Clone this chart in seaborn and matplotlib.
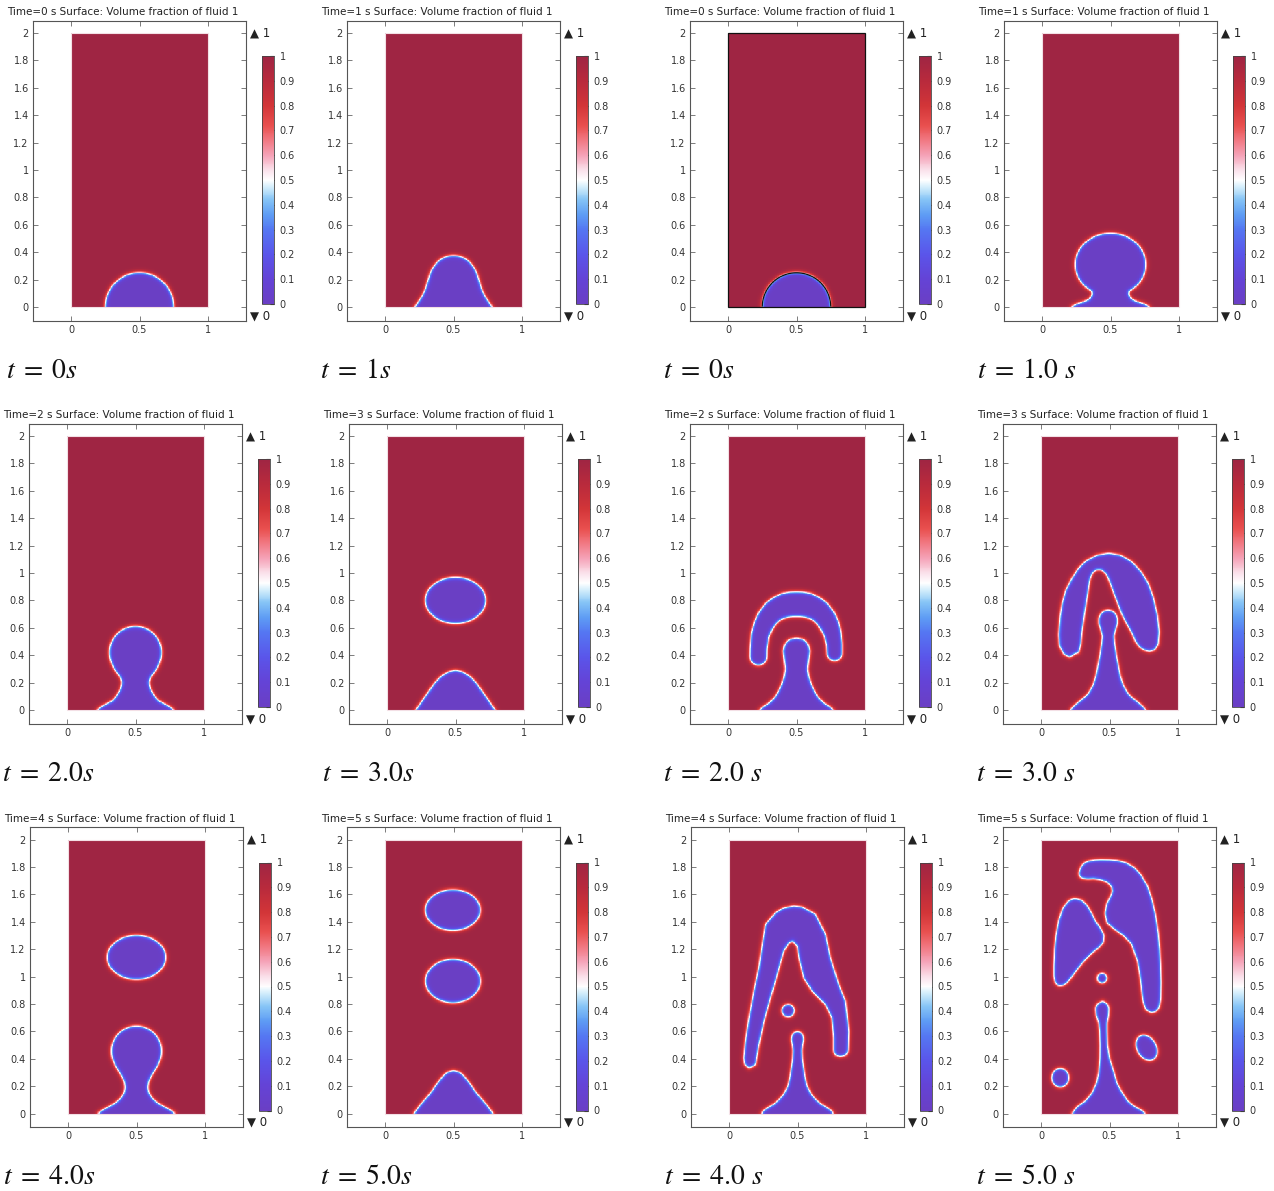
import numpy as np
import matplotlib
matplotlib.use("Agg")
import matplotlib.pyplot as plt
from matplotlib.colors import LinearSegmentedColormap
from matplotlib.path import Path
from matplotlib.patches import Rectangle
import seaborn as sns

sns.set_style("white")
plt.rcParams["font.family"] = ["DejaVu Sans"]
plt.rcParams["mathtext.fontset"] = "stix"

# ---------------------------------------------------------------------------
# Snapshot labels
# ---------------------------------------------------------------------------
times = [0, 1, 0, 1, 2, 3, 2, 3, 4, 5, 4, 5]
captions = [r"$t\;=\;0s$", r"$t\;=\;1s$", r"$t\;=\;0s$", r"$t\;=\;1.0\ s$",
            r"$t\;=\;2.0s$", r"$t\;=\;3.0s$", r"$t\;=\;2.0\ s$", r"$t\;=\;3.0\ s$",
            r"$t\;=\;4.0s$", r"$t\;=\;5.0s$", r"$t\;=\;4.0\ s$", r"$t\;=\;5.0\ s$"]
cbar_ticks = [0.0, 0.1, 0.2, 0.3, 0.4, 0.5, 0.6, 0.7, 0.8, 0.9, 1.0]
cbar_labels = ["0", "0.1", "0.2", "0.3", "0.4", "0.5", "0.6", "0.7", "0.8", "0.9", "1"]
x_ticks = [0.0, 0.5, 1.0]
x_labels = ["0", "0.5", "1"]
y_ticks = [0.0, 0.2, 0.4, 0.6, 0.8, 1.0, 1.2, 1.4, 1.6, 1.8, 2.0]
y_labels = ["0", "0.2", "0.4", "0.6", "0.8", "1", "1.2", "1.4", "1.6", "1.8", "2"]

# ---------------------------------------------------------------------------
# Bubble geometry (fluid 2 regions) in domain units, x in [0,1], y in [0,2]
# ---------------------------------------------------------------------------
# initial half-drop on the floor (both models)
drop_t0 = dict(kind="ellipse", cx=0.5, cy=0.0, rx=0.25, ry=0.25)

# left model, t = 1 s: bell-shaped bump
bump_t1_y = [-0.05, 0.0, 0.04, 0.08, 0.13, 0.18, 0.23, 0.27, 0.30, 0.33, 0.35, 0.365, 0.372, 0.375]
bump_t1_hw = [0.285, 0.283, 0.255, 0.228, 0.205, 0.19, 0.175, 0.16, 0.14, 0.115, 0.09, 0.06, 0.03, 0.0]

# left model, t = 2 s: head with neck and foot
head_t2 = dict(kind="ellipse", cx=0.5, cy=0.42, rx=0.19, ry=0.19)
neck_t2_y = [-0.05, 0.0, 0.015, 0.03, 0.05, 0.07, 0.10, 0.15, 0.20, 0.24, 0.27, 0.30, 0.34, 0.38, 0.42]
neck_t2_hw = [0.28, 0.278, 0.265, 0.24, 0.2, 0.165, 0.14, 0.11, 0.097, 0.11, 0.134, 0.155, 0.174, 0.186, 0.19]

# left model, t = 3 s: detached drop and new bump
drop_t3 = dict(kind="ellipse", cx=0.5, cy=0.80, rx=0.22, ry=0.168)
bump_t3_y = [-0.05, 0.0, 0.05, 0.10, 0.15, 0.20, 0.24, 0.265, 0.28, 0.29]
bump_t3_hw = [0.29, 0.29, 0.255, 0.22, 0.185, 0.15, 0.11, 0.075, 0.045, 0.0]

# left model, t = 4 s
drop_t4 = dict(kind="ellipse", cx=0.5, cy=1.14, rx=0.213, ry=0.16)
head_t4 = dict(kind="ellipse", cx=0.5, cy=0.455, rx=0.183, ry=0.183)
neck_t4_y = [-0.05, 0.0, 0.015, 0.03, 0.05, 0.08, 0.11, 0.15, 0.19, 0.23, 0.27, 0.31, 0.35, 0.40, 0.455]
neck_t4_hw = [0.28, 0.28, 0.265, 0.24, 0.2, 0.15, 0.115, 0.09, 0.082, 0.088, 0.105, 0.13, 0.155, 0.175, 0.183]

# left model, t = 5 s
drop_t5_upper = dict(kind="ellipse", cx=0.495, cy=1.485, rx=0.2, ry=0.148)
drop_t5_lower = dict(kind="ellipse", cx=0.496, cy=0.967, rx=0.2, ry=0.158)
bump_t5_y = [-0.05, 0.0, 0.06, 0.11, 0.16, 0.21, 0.25, 0.28, 0.30, 0.313]
bump_t5_hw = [0.29, 0.289, 0.245, 0.2, 0.16, 0.125, 0.095, 0.07, 0.045, 0.0]

# right model, t = 1.0 s
head_r1 = dict(kind="ellipse", cx=0.5, cy=0.31, rx=0.258, ry=0.228)
neck_r1_y = [-0.05, 0.0, 0.012, 0.025, 0.04, 0.06, 0.09, 0.12, 0.16, 0.20, 0.25, 0.31]
neck_r1_hw = [0.285, 0.283, 0.27, 0.24, 0.19, 0.152, 0.133, 0.135, 0.155, 0.19, 0.23, 0.258]

# right model, t = 2.0 s: mushroom cap (centre line + half-thickness) and stem
cap_r2_x = [0.222, 0.223, 0.235, 0.26, 0.29, 0.33, 0.375, 0.42, 0.46, 0.5, 0.54, 0.58, 0.625,
            0.67, 0.71, 0.74, 0.762, 0.776, 0.778]
cap_r2_y = [0.39, 0.45, 0.55, 0.62, 0.675, 0.72, 0.748, 0.765, 0.771, 0.772, 0.771, 0.765, 0.748,
            0.72, 0.675, 0.62, 0.56, 0.48, 0.415]
cap_r2_r = [0.062, 0.062, 0.065, 0.07, 0.075, 0.08, 0.085, 0.088, 0.089, 0.089, 0.089, 0.088, 0.085,
            0.08, 0.075, 0.07, 0.063, 0.057, 0.055]
stem_r2_y = [-0.05, 0.0, 0.02, 0.05, 0.09, 0.13, 0.18, 0.24, 0.30, 0.36, 0.43, 0.47, 0.50, 0.515, 0.525]
stem_r2_hw = [0.27, 0.27, 0.25, 0.2, 0.16, 0.135, 0.11, 0.09, 0.08, 0.088, 0.097, 0.088, 0.07, 0.048, 0.0]

# right model, t = 3.0 s
cap_r3_x = [0.245, 0.21, 0.165, 0.135, 0.13, 0.14, 0.155, 0.18, 0.22, 0.27, 0.33, 0.41, 0.495,
            0.58, 0.66, 0.73, 0.78, 0.82, 0.85, 0.862, 0.855, 0.83, 0.79, 0.75, 0.72,
            0.69, 0.665, 0.62, 0.59, 0.56, 0.53, 0.50, 0.475, 0.44, 0.405, 0.375, 0.355,
            0.34, 0.32, 0.30, 0.29, 0.275]
cap_r3_y = [0.41, 0.386, 0.41, 0.47, 0.55, 0.68, 0.78, 0.87, 0.95, 1.03, 1.09, 1.13, 1.144,
            1.13, 1.085, 1.01, 0.93, 0.82, 0.69, 0.57, 0.48, 0.44, 0.428, 0.44, 0.46,
            0.50, 0.56, 0.64, 0.70, 0.78, 0.856, 0.94, 0.995, 1.025, 1.025, 1.0, 0.95,
            0.85, 0.72, 0.58, 0.48, 0.42]
stem_r3_y = [-0.05, 0.0, 0.02, 0.05, 0.09, 0.12, 0.18, 0.25, 0.32, 0.40, 0.48, 0.54, 0.59, 0.63, 0.67, 0.70, 0.72, 0.73]
stem_r3_hw = [0.28, 0.275, 0.26, 0.225, 0.175, 0.145, 0.11, 0.088, 0.075, 0.06, 0.048, 0.042, 0.055, 0.068, 0.068, 0.055, 0.035, 0.0]

# right model, t = 4.0 s
cap_r4_x = [0.473, 0.40, 0.34, 0.267, 0.243, 0.218, 0.182, 0.146, 0.121, 0.109, 0.115, 0.146, 0.194,
            0.218, 0.255, 0.303, 0.352, 0.40, 0.437, 0.466, 0.498, 0.51, 0.546, 0.607, 0.704,
            0.752, 0.765, 0.765, 0.78, 0.813, 0.85, 0.869, 0.874, 0.85, 0.801, 0.74, 0.704,
            0.631, 0.534]
cap_r4_y = [1.515, 1.50, 1.466, 1.38, 1.234, 1.063, 0.893, 0.698, 0.527, 0.405, 0.36, 0.332, 0.356,
            0.502, 0.673, 0.844, 1.015, 1.185, 1.246, 1.259, 1.222, 1.137, 0.99, 0.893, 0.795,
            0.698, 0.551, 0.454, 0.425, 0.417, 0.425, 0.454, 0.6, 0.82, 0.941, 1.137, 1.307,
            1.454, 1.507]
satellite_r4 = dict(kind="ellipse", cx=0.432, cy=0.751, rx=0.045, ry=0.045)
stem_r4_y = [-0.05, 0.0, 0.02, 0.04, 0.07, 0.10, 0.14, 0.20, 0.26, 0.33, 0.40, 0.46, 0.50, 0.54, 0.57, 0.59, 0.60]
stem_r4_hw = [0.265, 0.262, 0.25, 0.22, 0.17, 0.135, 0.1, 0.07, 0.056, 0.045, 0.035, 0.032, 0.037, 0.045, 0.04, 0.025, 0.0]

# right model, t = 5.0 s
blob_r5_x = [0.277, 0.285, 0.30, 0.322, 0.349, 0.39, 0.434, 0.5, 0.556, 0.62, 0.678, 0.73, 0.776,
             0.81, 0.837, 0.855, 0.865, 0.872, 0.875, 0.873, 0.86, 0.835, 0.80, 0.765, 0.745,
             0.735, 0.725, 0.705, 0.66, 0.6, 0.53, 0.483, 0.468, 0.48, 0.51, 0.522, 0.515, 0.483,
             0.44, 0.385, 0.34, 0.30, 0.283]
blob_r5_y = [1.75, 1.785, 1.812, 1.832, 1.842, 1.849, 1.851, 1.85, 1.846, 1.83, 1.798, 1.74, 1.663,
             1.56, 1.444, 1.32, 1.2, 1.08, 0.956, 0.834, 0.77, 0.742, 0.737, 0.76, 0.82,
             0.9, 0.99, 1.11, 1.24, 1.3, 1.35, 1.39, 1.46, 1.53, 1.59, 1.625, 1.655, 1.69,
             1.705, 1.715, 1.712, 1.718, 1.73]
lobe_r5_x = [0.263, 0.30, 0.337, 0.37, 0.40, 0.435, 0.46, 0.455, 0.42, 0.37, 0.32, 0.27, 0.225,
             0.19, 0.16, 0.128, 0.105, 0.095, 0.095, 0.1, 0.11, 0.13, 0.16, 0.2, 0.235]
lobe_r5_y = [1.566, 1.555, 1.517, 1.46, 1.40, 1.35, 1.30, 1.25, 1.21, 1.17, 1.12, 1.06, 1.0,
             0.955, 0.935, 0.932, 0.955, 1.0, 1.08, 1.2, 1.3, 1.41, 1.5, 1.55, 1.568]
satellite_r5 = dict(kind="ellipse", cx=0.446, cy=0.988, rx=0.035, ry=0.035)
drop_r5_left = dict(kind="ellipse", cx=0.141, cy=0.261, rx=0.062, ry=0.068)
drop_r5_right = dict(kind="ellipse", cx=0.771, cy=0.48, rx=0.07, ry=0.098, angle=30)
stem_r5_y = [-0.05, 0.0, 0.02, 0.05, 0.09, 0.15, 0.22, 0.30, 0.40, 0.50, 0.60, 0.66, 0.72, 0.77, 0.80, 0.82]
stem_r5_c = [0.495, 0.495, 0.49, 0.475, 0.478, 0.483, 0.48, 0.477, 0.465, 0.458, 0.455, 0.452, 0.448, 0.447, 0.448, 0.45]
stem_r5_hw = [0.27, 0.268, 0.25, 0.21, 0.155, 0.11, 0.075, 0.055, 0.035, 0.027, 0.027, 0.03, 0.045, 0.048, 0.035, 0.0]


def profile(ys, hws, c=0.5):
    return dict(kind="profile", y=ys, hw=hws, c=c)


def poly(xs, ys):
    return dict(kind="polygon", x=xs, y=ys)


panels = [
    [drop_t0],
    [profile(bump_t1_y, bump_t1_hw)],
    [drop_t0],
    [head_r1, profile(neck_r1_y, neck_r1_hw)],
    [head_t2, profile(neck_t2_y, neck_t2_hw)],
    [drop_t3, profile(bump_t3_y, bump_t3_hw)],
    [dict(kind="tube", x=cap_r2_x, y=cap_r2_y, r=cap_r2_r), profile(stem_r2_y, stem_r2_hw)],
    [poly(cap_r3_x, cap_r3_y), profile(stem_r3_y, stem_r3_hw, c=0.49)],
    [drop_t4, head_t4, profile(neck_t4_y, neck_t4_hw)],
    [drop_t5_upper, drop_t5_lower, profile(bump_t5_y, bump_t5_hw)],
    [poly(cap_r4_x, cap_r4_y), satellite_r4, profile(stem_r4_y, stem_r4_hw)],
    [poly(blob_r5_x, blob_r5_y), poly(lobe_r5_x, lobe_r5_y), satellite_r5,
     drop_r5_left, drop_r5_right, profile(stem_r5_y, stem_r5_hw, c=stem_r5_c)],
]
outlined_panel = 2  # panel drawn with black domain edge and 0.5 contour

# ---------------------------------------------------------------------------
# Signed distance helpers (negative inside fluid 2)
# ---------------------------------------------------------------------------
def sdf_ellipse(X, Y, s):
    a = np.deg2rad(s.get("angle", 0.0))
    u = (X - s["cx"]) * np.cos(a) + (Y - s["cy"]) * np.sin(a)
    v = -(X - s["cx"]) * np.sin(a) + (Y - s["cy"]) * np.cos(a)
    rx, ry = s["rx"], s["ry"]
    k = np.sqrt((u / rx) ** 2 + (v / ry) ** 2)
    g = np.sqrt((u / rx ** 2) ** 2 + (v / ry ** 2) ** 2)
    return np.where(g > 1e-9, (k - 1.0) * k / np.maximum(g, 1e-9), -min(rx, ry))


def sdf_polygon(X, Y, vx, vy):
    vx = np.asarray(vx, float)
    vy = np.asarray(vy, float)
    d = np.full(X.shape, np.inf)
    for x1, y1, x2, y2 in zip(vx, vy, np.roll(vx, -1), np.roll(vy, -1)):
        ex, ey = x2 - x1, y2 - y1
        L = ex * ex + ey * ey
        if L == 0:
            continue
        t = np.clip(((X - x1) * ex + (Y - y1) * ey) / L, 0, 1)
        d = np.minimum(d, np.hypot(X - x1 - t * ex, Y - y1 - t * ey))
    inside = Path(np.column_stack([vx, vy])).contains_points(
        np.column_stack([X.ravel(), Y.ravel()])).reshape(X.shape)
    return np.where(inside, -d, d)


def sdf_tube(X, Y, xs, ys, rs):
    d = np.full(X.shape, np.inf)
    for i in range(len(xs) - 1):
        x1, y1, x2, y2 = xs[i], ys[i], xs[i + 1], ys[i + 1]
        ex, ey = x2 - x1, y2 - y1
        L = ex * ex + ey * ey
        t = np.clip(((X - x1) * ex + (Y - y1) * ey) / L, 0, 1)
        r = rs[i] + t * (rs[i + 1] - rs[i])
        d = np.minimum(d, np.hypot(X - x1 - t * ex, Y - y1 - t * ey) - r)
    return d


def sdf(X, Y, s):
    if s["kind"] == "ellipse":
        return sdf_ellipse(X, Y, s)
    if s["kind"] == "tube":
        return sdf_tube(X, Y, s["x"], s["y"], s["r"])
    if s["kind"] == "polygon":
        return sdf_polygon(X, Y, s["x"], s["y"])
    ys = np.asarray(s["y"], float)
    hw = np.asarray(s["hw"], float)
    c = np.broadcast_to(np.asarray(s["c"], float), ys.shape)
    vx = np.concatenate([c - hw, (c + hw)[::-1]])
    vy = np.concatenate([ys, ys[::-1]])
    return sdf_polygon(X, Y, vx, vy)


N = 200                      # cells per unit length
xc = (np.arange(N) + 0.5) / N
yc = (np.arange(2 * N) + 0.5) / N
XX, YY = np.meshgrid(xc, yc)
WIDTH = 0.017                # interface thickness
DIFFUSE = 1.6                # numerical smearing of the interface, in cells


def smear(a, sigma):
    rad = int(3 * sigma) + 1
    k = np.exp(-0.5 * (np.arange(-rad, rad + 1) / sigma) ** 2)
    k /= k.sum()
    p = np.pad(a, rad, mode="edge")
    p = np.apply_along_axis(lambda v: np.convolve(v, k, mode="valid"), 0, p)
    p = np.apply_along_axis(lambda v: np.convolve(v, k, mode="valid"), 1, p)
    return p


def volume_fraction(shapes):
    d = np.full(XX.shape, np.inf)
    for s in shapes:
        d = np.minimum(d, sdf(XX, YY, s))
    return smear(0.5 * (1.0 + np.tanh(d / WIDTH)), DIFFUSE)


# ---------------------------------------------------------------------------
# Colour map (purple - blue - white - red - wine)
# ---------------------------------------------------------------------------
cmap = LinearSegmentedColormap.from_list("wave", [
    (0.00, "#6a3fc4"), (0.10, "#6443d6"), (0.20, "#5a55ea"), (0.30, "#5577f2"),
    (0.36, "#5e9cf4"), (0.42, "#86c4f6"), (0.47, "#d0ecfb"), (0.50, "#ffffff"),
    (0.54, "#fae0ea"), (0.60, "#f5a3b8"), (0.66, "#f17882"), (0.72, "#e9504f"),
    (0.80, "#d23538"), (0.90, "#b82a3c"), (1.00, "#9f2543")])

# ---------------------------------------------------------------------------
# Layout (pixels)
# ---------------------------------------------------------------------------
W, H = 1274, 1191
S = 137.0
XLIM = (-0.278, 1.278)
YLIM = (-0.1, 2.09)
col_x0 = [[71, 385, 728, 1042], [67, 387, 728, 1041], [68, 385, 729, 1041]]
row_y0 = [307, 710, 1113.5]

fig = plt.figure(figsize=(W / 100, H / 100), dpi=100)
fig.patch.set_facecolor("white")

for i, shapes in enumerate(panels):
    r, c = divmod(i, 4)
    x0, y0 = col_x0[r][c], row_y0[r]
    left = x0 + XLIM[0] * S
    right = x0 + XLIM[1] * S
    top = y0 - YLIM[1] * S
    bottom = y0 - YLIM[0] * S
    ax = fig.add_axes([left / W, 1 - bottom / H, (right - left) / W, (bottom - top) / H])
    cax = fig.add_axes([(x0 + 191) / W, 1 - (y0 - 3) / H, 12 / W, 248 / H])

    phi = volume_fraction(shapes)
    sns.heatmap(phi, ax=ax, cmap=cmap, vmin=0, vmax=1, cbar_ax=cax,
                xticklabels=False, yticklabels=False)

    ax.set_xlim(XLIM[0] * N, XLIM[1] * N)
    ax.set_ylim(YLIM[0] * N, YLIM[1] * N)
    ax.set_xticks([t * N for t in x_ticks])
    ax.set_xticklabels(x_labels)
    ax.set_yticks([t * N for t in y_ticks])
    ax.set_yticklabels(y_labels)
    ax.tick_params(direction="in", top=True, right=True, bottom=True, left=True,
                   length=3.5, width=0.6, color="#666666", labelsize=7,
                   labelcolor="#333333", pad=3)
    for sp in ax.spines.values():
        sp.set_visible(True)
        sp.set_color("#555555")
        sp.set_linewidth(0.8)

    if i == outlined_panel:
        ax.add_patch(Rectangle((0, 0), N, 2 * N, fill=False, ec="#111111", lw=0.9))
        ax.contour(xc * N, yc * N, phi, levels=[0.5], colors="#111111", linewidths=0.9)
    else:
        ax.add_patch(Rectangle((0, 0), N, 2 * N, fill=False, ec="#f3dfe5", lw=0.8))

    cb = ax.collections[0].colorbar
    cb.set_ticks(cbar_ticks)
    cb.set_ticklabels(cbar_labels)
    cb.outline.set_visible(True)
    cb.outline.set_linewidth(0.6)
    cb.outline.set_edgecolor("#444444")
    cb.ax.tick_params(direction="in", length=3, width=0.8, color="#222222",
                      labelsize=7, labelcolor="#333333", pad=4)

    fig.text((right + 4) / W, 1 - (y0 - 2 * S) / H, "▲ 1", fontsize=8.5,
             ha="left", va="center", color="#222222")
    fig.text((right + 4) / W, 1 - (y0 + 9) / H, "▼ 0", fontsize=8.5,
             ha="left", va="center", color="#222222")
    fig.text((x0 - 63.5) / W, 1 - (y0 - 295) / H,
             f"Time={times[i]} s Surface: Volume fraction of fluid 1",
             fontsize=7.45, ha="left", va="center", color="#222222")
    fig.text((x0 - 65) / W, 1 - (y0 + 63) / H, captions[i], fontsize=20,
             ha="left", va="center", color="#111111")

fig.savefig("out.png", dpi=100, facecolor="white")
